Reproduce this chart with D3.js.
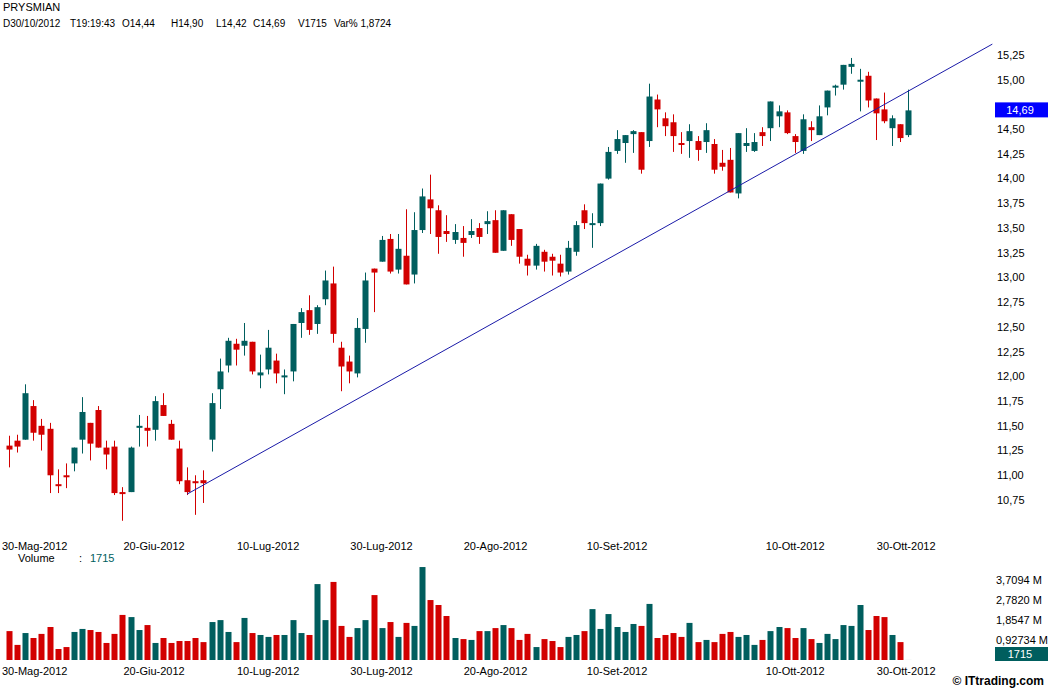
<!DOCTYPE html>
<html>
<head>
<meta charset="utf-8">
<script src="https://cdn.jsdelivr.net/npm/d3@7"></script>
<style>
  body { margin: 0; background: #fff; }
  text { font-family: "Liberation Sans", Arial, sans-serif; font-size: 11px; fill: #000; }
</style>
</head>
<body>
<svg id="svg" width="1048" height="688"></svg>
<script>
// PRYSMIAN daily candles, 30-Mag-2012 .. 30-Ott-2012
const title = "PRYSMIAN";
const infoTokens = ["D30/10/2012", "T19:19:43", "O14,44", "H14,90", "L14,42", "C14,69", "V1715", "Var% 1,8724"];

const open = [11.30,11.35,11.36,11.70,11.50,11.47,10.91,11.00,11.12,11.36,11.53,11.66,11.28,11.29,10.83,10.83,11.49,11.48,11.46,11.71,
  11.52,11.27,10.95,10.94,10.95,11.36,11.87,12.11,12.33,12.31,12.35,12.01,12.07,12.16,12.00,12.05,12.54,12.67,12.53,12.78,
  12.94,12.29,12.15,12.03,12.48,13.09,13.16,13.39,13.08,13.22,13.03,13.48,13.79,13.68,13.47,13.38,13.40,13.43,13.50,13.54,
  13.58,13.27,13.64,13.49,13.19,13.12,13.26,13.21,13.14,13.06,13.26,13.68,13.53,13.55,14.00,14.28,14.36,14.45,14.47,14.38,
  14.80,14.61,14.57,14.36,14.38,14.38,14.37,14.35,14.16,14.19,13.85,14.33,14.28,14.47,14.51,14.63,14.67,14.43,14.28,14.52,
  14.44,14.72,14.93,14.95,15.13,14.98,15.04,14.81,14.70,14.51,14.55,14.44];
const high = [11.40,11.41,11.92,11.76,11.57,11.53,11.06,11.12,11.28,11.79,11.53,11.70,11.35,11.35,10.88,11.29,11.61,11.60,11.80,11.83,
  11.56,11.35,11.08,11.00,11.05,11.83,12.18,12.39,12.38,12.54,12.35,12.22,12.47,12.23,12.07,12.53,12.69,12.82,12.72,13.07,
  13.11,12.35,12.21,12.59,13.05,13.09,13.42,13.44,13.44,13.69,13.66,13.90,14.04,13.73,13.63,13.54,13.52,13.59,13.55,13.67,
  13.68,13.68,13.64,13.49,13.23,13.34,13.28,13.24,13.23,13.37,13.57,13.74,13.65,13.95,14.32,14.49,14.44,14.49,14.47,14.96,
  14.85,14.67,14.65,14.47,14.55,14.43,14.56,14.40,14.29,14.31,14.46,14.51,14.46,14.52,14.78,14.74,14.69,14.45,14.65,14.58,
  14.74,14.89,14.95,15.15,15.22,15.11,15.08,14.81,14.87,14.64,14.55,14.90];
const low = [11.08,11.23,11.36,11.35,11.25,10.82,10.82,10.87,11.04,11.22,11.15,11.28,11.06,10.80,10.54,10.83,11.29,11.29,11.35,11.60,
  11.36,10.91,10.80,10.60,10.72,11.24,11.67,12.04,12.11,12.21,12.02,11.88,12.02,11.93,11.82,11.95,12.39,12.42,12.43,12.72,
  12.34,11.85,11.93,11.99,12.34,12.65,13.16,13.04,13.04,12.93,12.94,13.45,13.44,13.24,13.36,13.34,13.21,13.40,13.34,13.44,
  13.25,13.27,13.32,13.14,13.02,13.08,13.06,13.02,13.01,13.03,13.22,13.49,13.30,13.52,13.99,14.25,14.16,14.26,14.05,14.32,
  14.52,14.43,14.27,14.25,14.21,14.18,14.26,14.05,14.08,13.86,13.80,14.27,14.27,14.33,14.38,14.52,14.45,14.26,14.25,14.38,
  14.44,14.64,14.84,14.90,15.06,14.68,14.72,14.39,14.56,14.33,14.37,14.42];
const close = [11.26,11.29,11.83,11.43,11.41,11.00,10.89,10.99,11.28,11.64,11.32,11.28,11.21,10.82,10.82,11.28,11.50,11.45,11.75,11.60,
  11.36,10.94,10.83,10.93,10.92,11.73,12.05,12.36,12.27,12.36,12.05,12.04,12.29,12.03,12.01,12.53,12.65,12.47,12.70,12.97,
  12.43,12.10,12.05,12.49,12.97,13.05,13.38,13.06,13.29,12.93,13.48,13.82,13.70,13.41,13.44,13.46,13.35,13.47,13.41,13.57,
  13.25,13.68,13.38,13.21,13.12,13.32,13.16,13.17,13.05,13.30,13.53,13.55,13.55,13.95,14.27,14.40,14.44,14.48,14.09,14.83,
  14.70,14.53,14.43,14.35,14.48,14.29,14.49,14.09,14.12,13.86,14.46,14.36,14.37,14.43,14.78,14.68,14.46,14.37,14.60,14.49,
  14.63,14.89,14.94,15.15,15.16,15.00,14.79,14.66,14.58,14.61,14.41,14.69];
// volume in millions of shares
const volume = [1.34,0.70,1.25,1.02,1.21,1.53,0.51,0.60,1.30,1.44,1.39,1.30,0.79,1.21,2.09,1.99,1.39,1.62,0.79,1.02,
  0.79,0.88,0.88,1.02,0.83,1.76,1.85,1.30,0.83,1.95,1.25,1.16,1.07,1.16,1.16,1.85,1.25,1.16,3.52,1.85,
  3.62,1.58,1.07,1.48,1.85,3.01,1.48,1.76,1.07,1.72,1.58,4.31,2.78,2.55,2.04,1.02,0.97,0.93,1.34,1.34,
  1.48,1.62,1.48,0.93,1.21,0.60,0.97,0.88,0.60,1.07,1.16,1.34,2.36,1.44,2.13,1.53,1.30,1.67,1.58,2.60,
  1.02,1.16,1.25,1.07,1.72,0.83,0.93,0.83,1.21,1.30,1.07,1.16,0.70,0.93,1.34,1.53,1.48,1.02,1.48,0.97,
  0.79,1.21,0.97,1.62,1.58,2.55,1.39,2.04,1.99,1.16,0.83,0.001715];

// date labels, placed at a (fractional) candle index
const dateLabels = ["30-Mag-2012", "20-Giu-2012", "10-Lug-2012", "30-Lug-2012", "20-Ago-2012", "10-Set-2012", "10-Ott-2012", "30-Ott-2012"];
const dateLabelIdx = [0, 15, 29, 43, 57, 72.2, 94.3, 108];

const priceTicks = [10.75, 11, 11.25, 11.5, 11.75, 12, 12.25, 12.5, 12.75, 13, 13.25, 13.5, 13.75, 14, 14.25, 14.5, 15, 15.25];
const lastPrice = 14.69;
const volumeTicks = [0.92734, 1.8547, 2.7820, 3.7094];
const volumeTickLabels = ["0,92734 M", "1,8547 M", "2,7820 M", "3,7094 M"];
const lastVolume = "1715";

// support line: two anchors (candle index, price)
const trendIdx = [22, 121.4];
const trendPrice = [10.81, 15.36];

const GREEN = "#005e5e", RED = "#d20000";

const svg = d3.select("#svg");
svg.append("rect").attr("width", 1048).attr("height", 688).attr("fill", "#fff");

const n = close.length;
const x = d3.scaleLinear().domain([0, n - 1]).range([9, 908.1]);
const y = d3.scaleLinear().domain([10.75, 15.25]).range([500, 55]);
const yv = d3.scaleLinear().domain([0, 3.7094]).range([660, 580]);
const bw = 6;
const idx = d3.range(n);
const col = i => close[i] >= open[i] ? GREEN : RED;

// header
svg.append("text").attr("x", 3).attr("y", 11).text(title);
const infoX = [3, 70, 122, 171, 216, 253, 298, 334];
svg.selectAll(".info").data(infoTokens).enter().append("text")
  .attr("x", (d, i) => infoX[i]).attr("y", 27).style("font-size", "10px").text(d => d);

// price axis labels (right)
svg.selectAll(".py").data(priceTicks).enter().append("text")
  .attr("x", 997).attr("y", d => y(d)).attr("dy", "0.35em")
  .text(d => d3.format(".2f")(d).replace(".", ","));

// candles
const g = svg.append("g");
g.selectAll(".wick").data(idx).enter().append("line")
  .attr("x1", i => Math.round(x(i)) + 0.5).attr("x2", i => Math.round(x(i)) + 0.5)
  .attr("y1", i => y(high[i])).attr("y2", i => y(low[i]))
  .attr("stroke", col).attr("stroke-width", 1);
g.selectAll(".body").data(idx).enter().append("rect")
  .attr("x", i => Math.round(x(i)) - bw / 2 + 0.5)
  .attr("width", bw)
  .attr("y", i => y(Math.max(open[i], close[i])))
  .attr("height", i => Math.max(2, Math.abs(y(open[i]) - y(close[i]))))
  .attr("fill", col);

// support line
svg.append("line")
  .attr("x1", x(trendIdx[0])).attr("y1", y(trendPrice[0]))
  .attr("x2", x(trendIdx[1])).attr("y2", y(trendPrice[1]))
  .attr("stroke", "#1a1aa8").attr("stroke-width", 1);

// last price box
svg.append("rect").attr("x", 995).attr("y", y(lastPrice) - 8).attr("width", 53).attr("height", 15).attr("fill", "#0000ff");
svg.append("text").attr("x", 1020).attr("y", y(lastPrice)).attr("dy", "0.35em")
  .attr("text-anchor", "middle").style("fill", "#fff").text(d3.format(".2f")(lastPrice).replace(".", ","));

// date labels (under price and under volume)
[546, 671].forEach(ty => {
  svg.selectAll(null).data(dateLabels).enter().append("text")
    .attr("x", (d, i) => x(dateLabelIdx[i]) - 7).attr("y", ty).attr("dy", "0.35em")
    .text(d => d);
});

// volume header
svg.append("text").attr("x", 18).attr("y", 558).attr("dy", "0.35em").text("Volume");
svg.append("text").attr("x", 79).attr("y", 558).attr("dy", "0.35em").text(":");
svg.append("text").attr("x", 90).attr("y", 558).attr("dy", "0.35em").style("fill", GREEN).text(lastVolume);

// volume bars
svg.append("g").selectAll("rect").data(idx).enter().append("rect")
  .attr("x", i => Math.round(x(i)) - bw / 2 + 0.5)
  .attr("width", bw)
  .attr("y", i => yv(volume[i]))
  .attr("height", i => yv(0) - yv(volume[i]))
  .attr("fill", col);

// volume axis labels
svg.selectAll(".vy").data(volumeTicks).enter().append("text")
  .attr("x", 996).attr("y", d => yv(d)).attr("dy", "0.35em")
  .text((d, i) => volumeTickLabels[i]);
svg.append("rect").attr("x", 995).attr("y", 647).attr("width", 53).attr("height", 14).attr("fill", GREEN);
svg.append("text").attr("x", 1020).attr("y", 654).attr("dy", "0.35em").attr("text-anchor", "middle")
  .style("fill", "#fff").text(lastVolume);

// credit
svg.append("text").attr("x", 1044).attr("y", 681).attr("dy", "0.35em").attr("text-anchor", "end")
  .style("font-weight", "bold").style("font-size", "12px").text("\u00a9 ITtrading.com");
</script>
</body>
</html>
